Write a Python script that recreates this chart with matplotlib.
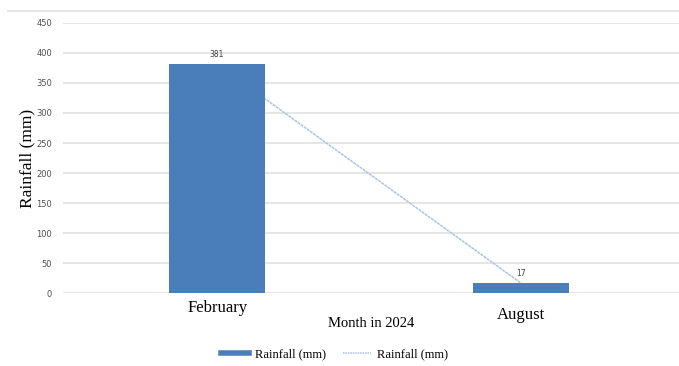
import matplotlib.pyplot as plt
from matplotlib.lines import Line2D

months = ["February", "August"]
rainfall = [381, 17]
y_ticks = [0, 50, 100, 150, 200, 250, 300, 350, 400, 450]

BAR_COLOR = "#4a7ebb"
LINE_COLOR = "#a8c4e6"
GRID_COLOR = "#e4e4e4"
SERIF = ["Liberation Serif", "DejaVu Serif"]

fig = plt.figure(figsize=(6.79, 3.66), dpi=100)
ax = fig.add_axes([0.0928, 0.1986, 0.9072, 0.739])

x = list(range(len(months)))
ax.plot(x, rainfall, color=LINE_COLOR, lw=1.1, ls=(0, (2, 0.5)), zorder=2)
ax.bar(x, rainfall, width=0.315, color=BAR_COLOR, zorder=3)

for xi, v in zip(x, rainfall):
    ax.annotate(str(v), (xi, v), xytext=(0, 4), textcoords="offset points",
                ha="center", va="bottom", fontsize=5.5, color="#404040", zorder=4)

ax.set_xlim(-0.507, 1.52)
ax.set_ylim(0, 450)
ax.set_yticks(y_ticks)
ax.tick_params(axis="y", length=0, labelsize=6, labelcolor="#505050", pad=8)
ax.set_xticks(x)
ax.set_xticklabels(months, fontsize=12, family=SERIF)
ax.tick_params(axis="x", length=0, pad=5)
ax.xaxis.get_major_ticks()[1].set_pad(10)

ax.grid(axis="y", color=GRID_COLOR, lw=1.3)
ax.set_axisbelow(True)
for s in ax.spines.values():
    s.set_visible(False)

ax.set_ylabel("Rainfall (mm)", fontsize=12.5, family=SERIF)
ax.yaxis.set_label_coords(-0.045, 0.5)
ax.set_xlabel("Month in 2024", fontsize=10.5, family=SERIF)
ax.xaxis.set_label_coords(0.5, -0.087)

# top frame line of the chart box
fig.add_artist(Line2D([8 / 679, 1.0], [1 - 10.5 / 366] * 2,
                      transform=fig.transFigure, color=GRID_COLOR, lw=1.3))

handles = [
    Line2D([], [], color=BAR_COLOR, lw=4),
    Line2D([], [], color=LINE_COLOR, lw=1.1, ls=(0, (1, 0.6))),
]
fig.legend(handles, ["Rainfall (mm)", "Rainfall (mm)"], loc="center",
           bbox_to_anchor=(0.493, 0.033), ncol=2, frameon=False,
           prop={"family": SERIF, "size": 9}, handlelength=2.2,
           handletextpad=0.5, columnspacing=1.4)

fig.savefig("out.png", dpi=100)
